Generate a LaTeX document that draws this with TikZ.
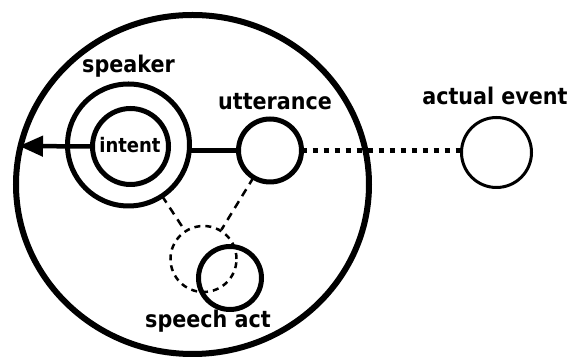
\documentclass[tikz,border=0pt]{standalone}
\usepackage{fontspec}
\newfontfamily\labfont{DejaVu Sans Condensed}
\usetikzlibrary{arrows.meta,shapes.geometric}
\begin{document}
\begin{tikzpicture}[x=1pt,y=1pt,
  ring/.style={circle,draw,line width=#1,inner sep=0pt,outer sep=0pt},
  lab/.style={font=\labfont\bfseries\fontsize{23}{23}\selectfont,anchor=base,inner sep=0pt}]
\useasboundingbox (0,0) rectangle (574,358);
\node[ellipse,draw,line width=6pt,minimum width=353pt,minimum height=339pt,inner sep=0pt] (world) at (192.5,173.5) {};
\node[ring=5pt,minimum size=122pt] (speaker) at (128.5,213) {};
\node[ring=5pt,minimum size=76pt] (intent) at (130.5,211.5) {};
\node[ring=5pt,minimum size=63pt] (utter) at (270,207.5) {};
\node[ring=3pt,minimum size=70pt] (event) at (496.5,205.5) {};
\node[ring=5pt,minimum size=63pt] (sact) at (230,80) {};
\node[circle,draw,line width=2.5pt,dash pattern=on 6pt off 5pt,minimum size=66pt,inner sep=0pt] (dc) at (203.5,99) {};
\coordinate (tip) at (19,212);
\draw[line width=4.5pt,-{Triangle[length=24pt,width=20pt]}] (intent.west) -- (tip);
\draw[line width=4.5pt] (speaker.east |- utter) -- (utter.west);
\draw[line width=4.5pt,dash pattern=on 5pt off 6pt] (utter.east) -- (event.west |- utter.east);
\draw[line width=2.5pt,dash pattern=on 8pt off 6pt] (speaker) -- (dc);
\draw[line width=2.5pt,dash pattern=on 8pt off 6pt] (utter) -- (dc);
\node[lab] at (128.5,285) {speaker};
\node[lab,font=\labfont\bfseries\fontsize{20}{20}\selectfont] at (130,205) {intent};
\node[lab] at (275,248) {utterance};
\node[lab] at (495,253) {actual event};
\node[lab] at (208,30) {speech act};
\end{tikzpicture}
\end{document}
